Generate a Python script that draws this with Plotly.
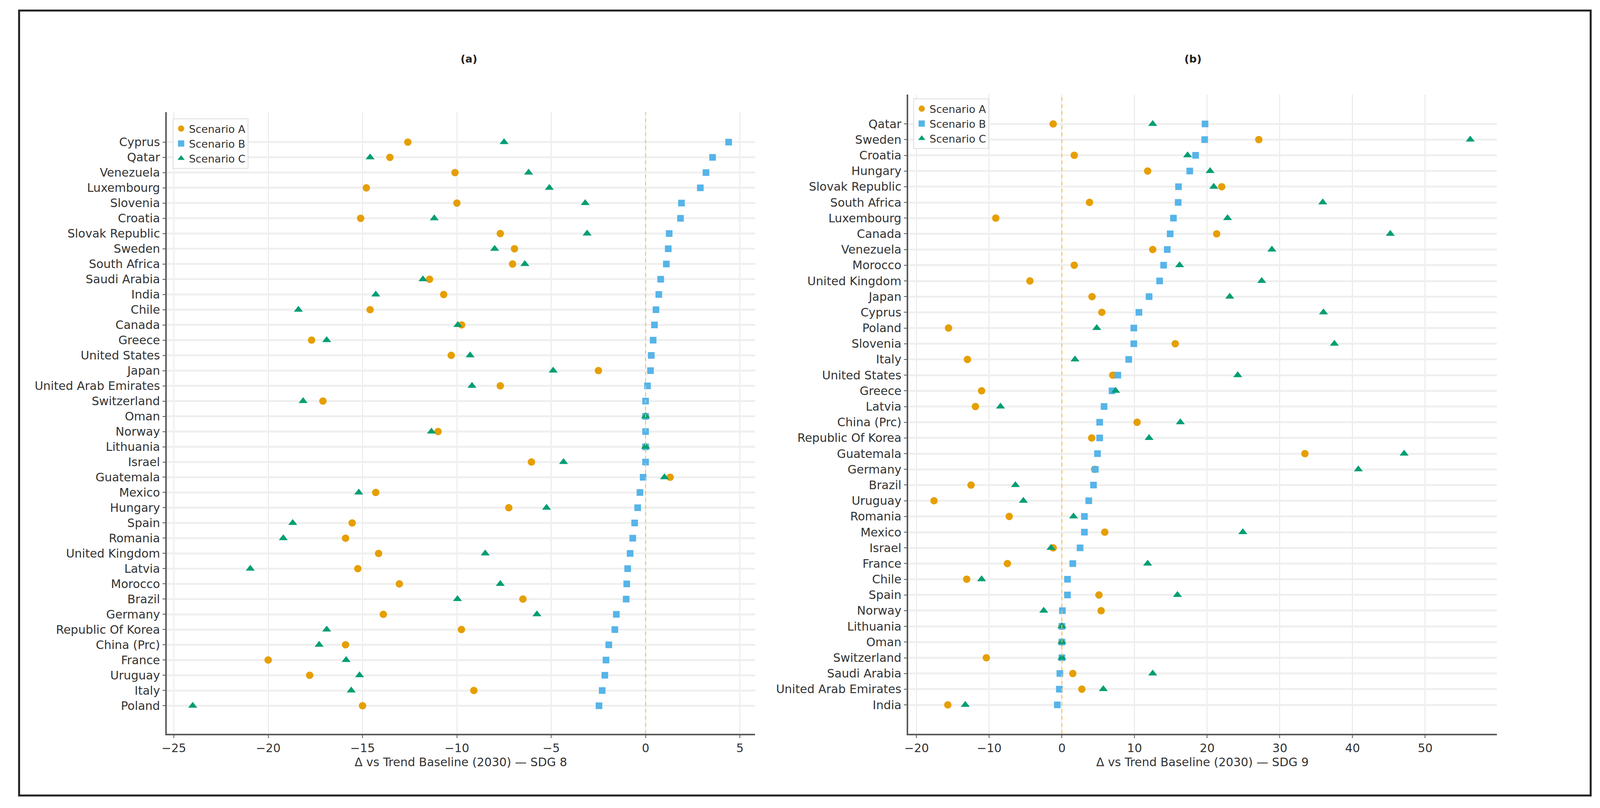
import plotly.graph_objects as go
from plotly.subplots import make_subplots

# panel (a): SDG 8, countries listed top to bottom
countries_a = ["Cyprus", "Qatar", "Venezuela", "Luxembourg", "Slovenia", "Croatia",
               "Slovak Republic", "Sweden", "South Africa", "Saudi Arabia", "India", "Chile",
               "Canada", "Greece", "United States", "Japan", "United Arab Emirates", "Switzerland",
               "Oman", "Norway", "Lithuania", "Israel", "Guatemala", "Mexico", "Hungary", "Spain",
               "Romania", "United Kingdom", "Latvia", "Morocco", "Brazil", "Germany",
               "Republic Of Korea", "China (Prc)", "France", "Uruguay", "Italy", "Poland"]
a_scen_a = [-12.6, -13.55, -10.1, -14.8, -10.0, -15.1, -7.7, -6.95, -7.05, -11.45, -10.7, -14.6,
            -9.75, -17.7, -10.3, -2.5, -7.7, -17.1, 0.0, -11.0, 0.0, -6.05, 1.3, -14.3, -7.25, -15.55,
            -15.9, -14.15, -15.25, -13.05, -6.5, -13.9, -9.76, -15.9, -20.0, -17.8, -9.1, -15.0]
a_scen_b = [4.4, 3.55, 3.2, 2.9, 1.9, 1.85, 1.25, 1.2, 1.1, 0.8, 0.7, 0.55,
            0.47, 0.4, 0.3, 0.26, 0.1, 0.0, 0.0, 0.0, 0.0, 0.0, -0.13, -0.3, -0.42, -0.58,
            -0.68, -0.82, -0.95, -1.0, -1.03, -1.55, -1.63, -1.95, -2.1, -2.16, -2.3, -2.47]
a_scen_c = [-7.5, -14.6, -6.2, -5.1, -3.2, -11.2, -3.1, -8.0, -6.4, -11.8, -14.3, -18.4,
            -9.95, -16.9, -9.3, -4.9, -9.2, -18.15, 0.0, -11.35, 0.0, -4.35, 1.0, -15.2, -5.25, -18.7,
            -19.2, -8.5, -20.95, -7.7, -9.97, -5.76, -16.9, -17.3, -15.87, -15.16, -15.6, -24.0]

# panel (b): SDG 9
countries_b = ["Qatar", "Sweden", "Croatia", "Hungary", "Slovak Republic", "South Africa",
               "Luxembourg", "Canada", "Venezuela", "Morocco", "United Kingdom", "Japan", "Cyprus",
               "Poland", "Slovenia", "Italy", "United States", "Greece", "Latvia", "China (Prc)",
               "Republic Of Korea", "Guatemala", "Germany", "Brazil", "Uruguay", "Romania", "Mexico",
               "Israel", "France", "Chile", "Spain", "Norway", "Lithuania", "Oman", "Switzerland",
               "Saudi Arabia", "United Arab Emirates", "India"]
b_scen_a = [-1.2, 27.1, 1.7, 11.8, 22.0, 3.8, -9.1, 21.3, 12.5, 1.7, -4.4, 4.15, 5.5,
            -15.6, 15.6, -13.0, 7.0, -11.05, -11.9, 10.35, 4.1, 33.45, 4.5, -12.5, -17.6, -7.25, 5.9,
            -1.2, -7.5, -13.1, 5.1, 5.4, 0.0, 0.0, -10.4, 1.5, 2.75, -15.7]
b_scen_b = [19.7, 19.65, 18.4, 17.6, 16.05, 16.0, 15.35, 14.9, 14.5, 14.0, 13.45, 12.0, 10.6,
            9.9, 9.9, 9.2, 7.7, 6.9, 5.8, 5.2, 5.2, 4.9, 4.6, 4.35, 3.7, 3.1, 3.1,
            2.5, 1.5, 0.77, 0.77, 0.07, 0.0, 0.0, 0.0, -0.28, -0.35, -0.63]
b_scen_c = [12.5, 56.2, 17.3, 20.4, 20.9, 35.9, 22.8, 45.2, 28.9, 16.2, 27.5, 23.1, 36.0,
            4.8, 37.5, 1.8, 24.2, 7.4, -8.45, 16.3, 12.0, 47.1, 40.8, -6.4, -5.3, 1.6, 24.9,
            -1.5, 11.8, -11.05, 15.9, -2.5, 0.0, 0.0, 0.0, 12.5, 5.7, -13.3]

scenario_names = ["Scenario A", "Scenario B", "Scenario C"]
colors = ["#E69F00", "#56B4E9", "#009E73"]
symbols = ["circle", "square", "triangle-up"]
sizes = [19, 17, 20]

W, H = 4108, 2068
FONT = "DejaVu Sans"

def px_x(v):
    return v / W

def px_y(v):
    return 1 - v / H

fig = make_subplots(rows=1, cols=2)

panels = [
    (countries_a, [a_scen_a, a_scen_b, a_scen_c], "legend"),
    (countries_b, [b_scen_a, b_scen_b, b_scen_c], "legend2"),
]
for col, (countries, series, leg) in enumerate(panels, start=1):
    for name, vals, c, sym, sz in zip(scenario_names, series, colors, symbols, sizes):
        fig.add_trace(go.Scatter(
            x=vals, y=countries, mode="markers", name=name, legend=leg,
            marker=dict(color=c, symbol=sym, size=sz, line=dict(width=0)),
        ), row=1, col=col)
    # dashed zero reference line
    fig.add_vline(x=0, line=dict(color="#F2BE5C", width=2.5, dash="dash"), row=1, col=col)

# frame around the whole figure
fig.add_shape(type="rect", xref="paper", yref="paper",
              x0=px_x(36), x1=px_x(4072), y0=px_y(2036), y1=px_y(27),
              line=dict(color="#222222", width=5), layer="below")

axis_common = dict(
    showline=True, linecolor="#5a5a5a", linewidth=4, mirror=False,
    ticks="outside", ticklen=7, tickwidth=2, tickcolor="#5a5a5a",
    tickfont=dict(family=FONT, size=30, color="#333333"),
    zeroline=False,
)

fig.update_xaxes(**axis_common, showgrid=True, gridcolor="#e6e6e6", gridwidth=2)
fig.update_yaxes(**axis_common, showgrid=True, gridcolor="#efefef", gridwidth=5,
                 type="category")

title_font = dict(family=FONT, size=30, color="#333333")
legend_style = dict(xanchor="left", yanchor="top",
                    bgcolor="rgba(255,255,255,0.85)", bordercolor="#dddddd", borderwidth=2,
                    font=dict(family=FONT, size=27, color="#333333"))

fig.update_layout(
    xaxis=dict(domain=[px_x(415), px_x(1926)], range=[-25.38, 5.8],
               tickvals=[-25, -20, -15, -10, -5, 0, 5],
               title=dict(text="Δ vs Trend Baseline (2030) — SDG 8", standoff=10, font=title_font)),
    yaxis=dict(domain=[px_y(1878), px_y(287)], categoryorder="array",
               categoryarray=countries_a, range=[38.84, -1.97]),
    xaxis2=dict(domain=[px_x(2319), px_x(3831)], range=[-21.17, 59.86],
                tickvals=[-20, -10, 0, 10, 20, 30, 40, 50],
                title=dict(text="Δ vs Trend Baseline (2030) — SDG 9", standoff=10, font=title_font)),
    yaxis2=dict(domain=[px_y(1878), px_y(242)], categoryorder="array",
                categoryarray=countries_b, range=[38.84, -1.87]),
    legend=dict(x=px_x(430), y=px_y(303), **legend_style),
    legend2=dict(x=px_x(2332), y=px_y(252), **legend_style),
    width=W, height=H,
    margin=dict(l=0, r=0, t=0, b=0),
    plot_bgcolor="white", paper_bgcolor="white",
    font=dict(family=FONT, color="#333333"),
)

fig.add_annotation(text="<b>(a)</b>", x=px_x(1168), y=px_y(150), xref="paper", yref="paper",
                   yanchor="middle", showarrow=False,
                   font=dict(family=FONT, size=27, color="#222222"))
fig.add_annotation(text="<b>(b)</b>", x=px_x(3075), y=px_y(150), xref="paper", yref="paper",
                   yanchor="middle", showarrow=False,
                   font=dict(family=FONT, size=27, color="#222222"))

fig.write_html("out.html", config={"displayModeBar": False},
               post_script="document.body.style.margin='0';document.body.style.overflow='hidden';")
